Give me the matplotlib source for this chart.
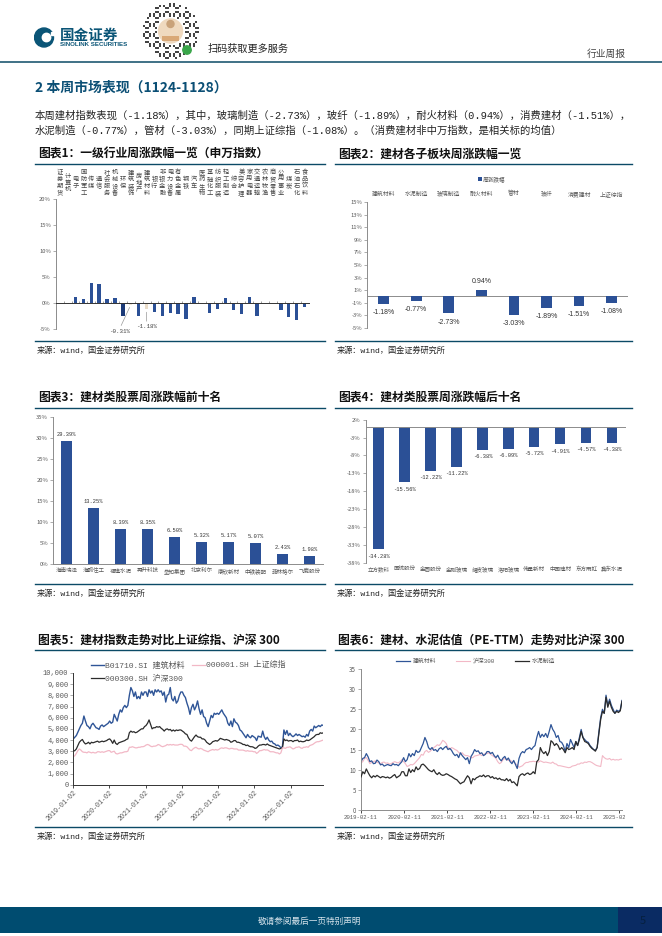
#!/usr/bin/env python3
"""建材周报第 5 页：六张图的复刻，输出 out.png"""
import numpy as np
import pandas as pd
import matplotlib
matplotlib.use("Agg")
import matplotlib.pyplot as plt
from matplotlib.patches import Rectangle, Circle
from matplotlib.transforms import Bbox

plt.rcParams["font.family"] = ["Noto Sans CJK SC", "DejaVu Sans"]
plt.rcParams["axes.unicode_minus"] = False

W, H = 662, 936
CJK = ["Noto Sans CJK SC", "DejaVu Sans"]
MONO = ["Liberation Mono", "Noto Sans CJK SC"]
SANS = ["Liberation Sans", "Noto Sans CJK SC"]
TEAL = "#0b4a66"
BLUE = "#2b5096"
NAVY = "#1c3a78"
PINK = "#f2b8c6"
BLACK = "#2b2b2b"
GREY = "#595959"

# 图表1
ind_names = ["证券期货", "计算机", "电子", "国防军工", "传媒", "通信", "社会服务", "机械设备",
             "环保", "建筑装饰", "房地产", "建筑材料", "银行", "非银金融", "电力设备", "有色金属",
             "钢铁", "汽车", "医药生物", "基础化工", "纺织服装", "轻工制造", "综合", "美容护理",
             "家用电器", "交通运输", "农林牧渔", "商贸零售", "公用事业", "煤炭", "石油石化", "食品饮料"]
ind_chg = [0, 0, 1.2, 0.9, 3.9, 3.8, 0.8, 1.1, -2.4, -0.31, -2.5, -1.18, -1.6, -2.4, -1.8, -2.1,
           -3.0, 1.25, 0, -1.8, -1.1, 1.1, -1.3, -2.0, 1.3, -2.5, 0, 0.15, -1.3, -2.7, -3.3, -0.8]
ind_ticks = [-5, 0, 5, 10, 15, 20]

# 图表2
sub_names = ["建筑材料", "水泥制造", "玻璃制造", "耐火材料", "管材", "玻纤", "消费建材", "上证综指"]
sub_chg = [-1.18, -0.77, -2.73, 0.94, -3.03, -1.89, -1.51, -1.08]
sub_ticks = [-5, -3, -1, 1, 3, 5, 7, 9, 11, 13, 15]

# 图表3
top_names = ["海南瑞泽", "海鸥住工", "福建水泥", "再升科技", "垒知集团",
             "北京利尔", "康欣新材", "中铁装配", "菲林格尔", "飞鹿股份"]
top_chg = [29.39, 13.25, 8.39, 8.35, 6.50, 5.32, 5.17, 5.07, 2.43, 1.98]
top_ticks = [0, 5, 10, 15, 20, 25, 30, 35]

# 图表4
low_names = ["立方数科", "国统股份", "金圆股份", "金刚玻璃", "耀皮玻璃",
             "洛阳玻璃", "伟星新材", "中国建材", "东方雨虹", "冀东水泥"]
low_chg = [-34.28, -15.56, -12.22, -11.22, -6.38, -6.09, -5.72, -4.91, -4.57, -4.38]
low_ticks = [-38, -33, -28, -23, -18, -13, -8, -3, 2]

# 图表5，半月一个读数
idx_start, idx_end = "2019-01-02", "2025-11-28"
idx_jc = [4100, 4250, 4400, 4700, 5000, 5300, 5500, 6150, 5700, 5300, 5200, 5000,
          5350, 5500, 5300, 5100, 5050, 4950, 5250, 5350, 5200, 5300, 5400, 5500,
          5700, 5500, 5600, 6300, 6000, 5700, 6300, 6700, 6500, 6900, 7100, 6900,
          7100, 8000, 8700, 8400, 7900, 8300, 7700, 7900, 7700, 8300, 8000, 8300,
          8300, 7900, 8500, 8200, 8400, 8000, 8500, 8300, 8500, 8300, 8400, 8000,
          8300, 7400, 8000, 8100, 8700, 7700, 7500, 7900, 7300, 7500, 8000, 8300,
          8300, 8000, 7800, 7300, 6900, 6300, 6900, 7200, 6700, 7000, 7500, 6800,
          6300, 6700, 6100, 6000, 5500, 5200, 5700, 6200, 6000, 6400, 6300, 6400,
          6300, 6500, 6700, 6400, 6200, 6000, 5500, 5300, 5700, 5200, 5900, 5600,
          5500, 5300, 4900, 4800, 4600, 4400, 4200, 4500, 4300, 4200, 4400, 4300,
          4200, 3950, 4350, 4300, 4250, 4800, 4300, 4050, 4250, 4000, 3850, 3900,
          3700, 3650, 3500, 3550, 3450, 3300, 3400, 4900, 4500, 4850, 4400, 4600,
          4400, 4300, 4400, 4550, 4400, 4500, 4400, 4300, 4350, 4250, 4500, 4350,
          4800, 4950, 4800, 5250, 5100, 5200, 5300, 5200, 5350, 5300]
idx_hs300 = [3000, 3050, 3200, 3500, 3800, 3950, 4050, 3800, 3650, 3700, 3800, 3650,
             3800, 3750, 3800, 3850, 3900, 3800, 3850, 3900, 3850, 3900, 3950, 4050,
             4100, 3950, 3700, 4000, 3700, 3600, 3750, 3800, 3850, 3900, 3950, 4050,
             4100, 4650, 4800, 4700, 4750, 4650, 4700, 4800, 4900, 5000, 5000, 5200,
             5300, 5500, 5800, 5400, 5000, 5100, 5100, 5200, 5150, 5200, 5050, 4950,
             4800, 4950, 5000, 4900, 4950, 4800, 4900, 4800, 4900, 4850, 4900, 4900,
             4800, 4700, 4550, 4500, 4200, 4000, 3900, 4100, 4300, 4450, 4300, 4250,
             4250, 4100, 4100, 4000, 3800, 3700, 3600, 3700, 3850, 3900, 3950, 3900,
             4000, 4150, 4100, 4050, 4000, 4050, 4000, 3950, 3800, 3850, 3950, 3950,
             3800, 3800, 3750, 3700, 3600, 3600, 3500, 3550, 3450, 3400, 3400, 3350,
             3250, 3300, 3450, 3550, 3550, 3600, 3600, 3550, 3650, 3550, 3500, 3450,
             3400, 3350, 3300, 3250, 3200, 3250, 3300, 4100, 3950, 4000, 3900, 3950,
             3950, 3850, 3950, 3950, 4000, 3850, 3900, 3850, 3850, 3900, 4000, 3950,
             4000, 4100, 4200, 4300, 4450, 4500, 4500, 4650, 4600, 4650]
idx_sh = [2500, 2600, 2800, 3050, 3200, 3100, 2950, 2900, 2900, 2850, 2950, 2900,
          2850, 2900, 2850, 2850, 2950, 2950, 2900, 2950, 2900, 2950, 3000, 3050,
          3050, 2900, 2950, 3000, 2800, 2750, 2800, 2850, 2850, 2900, 2950, 2950,
          3000, 3350, 3350, 3400, 3350, 3300, 3300, 3350, 3350, 3400, 3400, 3450,
          3550, 3600, 3550, 3450, 3400, 3450, 3450, 3500, 3600, 3550, 3450, 3400,
          3450, 3500, 3600, 3550, 3600, 3550, 3600, 3550, 3550, 3550, 3600, 3620,
          3600, 3450, 3450, 3400, 3250, 3100, 3050, 3200, 3300, 3350, 3250, 3200,
          3250, 3200, 3100, 3050, 3000, 2950, 3050, 3100, 3150, 3100, 3150, 3100,
          3150, 3250, 3300, 3250, 3300, 3300, 3250, 3200, 3250, 3250, 3200, 3200,
          3200, 3100, 3100, 3100, 3100, 3050, 3000, 3050, 3000, 3000, 3000, 2950,
          2950, 2800, 2900, 3050, 3050, 3100, 3150, 3100, 3120, 3050, 2950, 2950,
          2950, 2900, 2850, 2850, 2750, 2850, 3300, 3300, 3250, 3350, 3350, 3400,
          3300, 3200, 3250, 3350, 3350, 3400, 3300, 3250, 3350, 3350, 3400, 3350,
          3500, 3550, 3600, 3700, 3800, 3850, 3850, 3900, 3950, 4000]
idx_ticks = [0, 1000, 2000, 3000, 4000, 5000, 6000, 7000, 8000, 9000, 10000]
idx_dates = ["2019-01-02", "2020-01-02", "2021-01-02", "2022-01-02",
             "2023-01-02", "2024-01-02", "2025-01-02"]

# 图表6
pe_start, pe_end = "2019-02-11", "2025-03-05"
pe_jc = [12.0, 12.8, 13.0, 14.0, 13.2, 12.0, 12.2, 11.5, 11.6, 12.4, 12.0, 11.2,
         11.4, 10.9, 11.1, 11.3, 11.1, 11.0, 11.5, 11.2, 11.3, 11.0, 11.5, 12.0,
         13.0, 12.0, 12.5, 14.0, 13.2, 14.0, 13.5, 14.8, 14.3, 14.5, 15.5, 16.5,
         18.0, 17.0, 15.5, 15.0, 15.5, 14.8, 15.0, 14.5, 15.2, 15.5, 15.0, 15.5,
         15.8, 15.0, 15.3, 14.8, 14.0, 13.5, 13.8, 13.0, 14.2, 13.5, 13.0, 12.5,
         13.0, 11.5, 13.3, 14.0, 15.0, 14.5, 14.7, 14.0, 14.2, 13.5, 13.8, 14.5,
         14.5, 14.0, 14.3, 13.5, 13.0, 13.6, 12.7, 12.2, 12.9, 13.3, 12.4, 12.9,
         12.0, 11.5, 12.3, 11.3, 10.3, 12.8, 14.0, 14.5, 14.2, 15.0, 15.2, 15.5,
         15.0, 15.6, 16.0, 18.0, 19.5, 18.0, 18.8, 18.2, 19.0, 18.0, 19.5, 21.2,
         20.0, 19.3, 18.0, 18.5, 17.0, 16.8, 16.0, 14.5, 16.5, 15.5, 17.5, 16.5,
         15.5, 17.0, 16.0, 18.0, 20.0, 18.0, 17.5, 17.0, 16.8, 16.0, 15.5, 15.0,
         14.8, 15.5, 19.5, 23.0, 25.0, 24.0, 28.5, 26.0, 27.5, 26.0, 25.0, 24.0,
         24.8, 24.5, 24.8, 27.2]
pe_cement = [8.2, 9.5, 9.0, 10.2, 9.3, 8.5, 8.0, 8.5, 8.2, 8.6, 8.3, 8.0,
             8.3, 8.2, 8.0, 8.2, 7.9, 8.1, 8.5, 8.8, 8.0, 8.3, 8.6, 9.5,
             9.5, 8.5, 8.5, 10.2, 9.3, 10.0, 9.5, 10.7, 10.0, 10.3, 11.2, 11.4,
             11.0, 10.5, 10.0, 9.7, 9.5, 10.0, 9.2, 8.8, 9.3, 8.8, 8.6, 8.7,
             9.0, 8.8, 8.5, 8.3, 8.0, 7.7, 7.5, 7.0, 6.5, 6.8, 7.0, 7.8,
             8.5, 8.0, 6.5, 7.8, 7.5, 8.0, 8.2, 8.5, 8.3, 8.7, 8.2, 8.5,
             8.5, 8.0, 8.3, 7.8, 8.0, 7.6, 7.9, 7.5, 7.5, 7.3, 7.8, 7.2,
             7.6, 6.8, 7.0, 6.5, 6.0, 8.3, 8.8, 9.0, 8.6, 9.0, 9.2, 8.8,
             9.0, 9.5, 9.0, 12.0, 12.5, 15.5, 14.5, 14.0, 14.5, 13.5, 14.5, 17.2,
             16.8, 16.0, 16.5, 16.0, 15.0, 15.5, 15.0, 14.2, 15.5, 15.0, 15.2, 15.5,
             15.0, 17.0, 16.0, 17.5, 19.5, 18.0, 17.0, 16.8, 16.5, 15.8, 15.3, 15.0,
             14.6, 15.5, 19.0, 22.5, 24.5, 24.0, 28.0, 25.5, 27.0, 25.5, 24.5, 24.0,
             24.5, 24.2, 24.6, 27.0]
pe_hs300 = [11.7, 12.0, 12.8, 13.0, 12.3, 11.5, 11.8, 12.0, 12.2, 11.8, 11.7, 11.5,
            11.8, 11.9, 11.6, 11.7, 11.4, 11.5, 11.8, 12.0, 11.8, 11.7, 12.0, 12.5,
            12.0, 11.5, 10.8, 11.0, 11.3, 11.2, 11.5, 12.0, 12.5, 13.0, 13.8, 13.6,
            14.5, 14.8, 14.3, 14.6, 15.0, 15.5, 15.8, 16.2, 16.0, 16.5, 17.3, 17.0,
            16.5, 15.5, 15.0, 15.5, 15.3, 15.0, 14.8, 14.3, 14.0, 14.2, 13.7, 13.5,
            13.5, 13.3, 13.0, 13.0, 13.4, 13.5, 13.6, 13.8, 13.5, 13.8, 14.0, 14.0,
            14.2, 13.8, 13.5, 13.2, 12.8, 12.0, 11.5, 11.8, 12.5, 12.8, 12.5, 12.3,
            12.4, 12.0, 12.0, 11.5, 11.2, 10.6, 10.8, 11.0, 11.5, 11.8, 11.8, 12.0,
            12.0, 12.1, 12.0, 12.0, 11.9, 12.2, 12.0, 11.8, 11.9, 11.8, 11.7, 11.6,
            11.9, 11.5, 11.4, 11.0, 11.0, 10.9, 10.8, 10.7, 10.6, 10.5, 10.6, 10.9,
            11.0, 11.1, 11.4, 11.4, 11.7, 11.6, 11.9, 11.8, 12.0, 12.0, 11.8, 11.5,
            11.2, 11.0, 10.9, 10.8, 13.5, 13.0, 12.7, 12.6, 12.8, 12.4, 12.6, 12.4,
            12.5, 12.4, 12.6, 12.6]
pe_ticks = [0, 5, 10, 15, 20, 25, 30, 35]
pe_dates = ["2019-02-11", "2020-02-11", "2021-02-11", "2022-02-11",
            "2023-02-11", "2024-02-11", "2025-02-11"]

SOURCE = "来源：wind，国金证券研究所"
BODY = ["本周建材指数表现（-1.18%），其中，玻璃制造（-2.73%），玻纤（-1.89%），耐火材料（0.94%），消费建材（-1.51%），",
        "水泥制造（-0.77%），管材（-3.03%），同期上证综指（-1.08%）。（消费建材非中万指数，是相关标的均值）"]

fig = plt.figure(figsize=(W / 100, H / 100), dpi=100, facecolor="white")


def px_axes(x0, y0, x1, y1):
    # 像素坐标（左上为原点）转 figure 坐标
    return fig.add_axes([x0 / W, 1 - y1 / H, (x1 - x0) / W, (y1 - y0) / H])


def px_xy(x, y):
    return x / W, 1 - y / H


def px_text(x, y, s, **kw):
    kw.setdefault("va", "center")
    return fig.text(x / W, 1 - y / H, s, **kw)


def px_rect(x0, y0, x1, y1, color):
    fig.add_artist(Rectangle((x0 / W, 1 - y1 / H), (x1 - x0) / W, (y1 - y0) / H,
                             transform=fig.transFigure, color=color, lw=0))


def px_hline(x0, x1, y, color=TEAL, lw=1.0):
    fig.add_artist(plt.Line2D([x0 / W, x1 / W], [1 - y / H, 1 - y / H], color=color, lw=lw))


def panel_frame(x0, x1, title, y_title, y_top, y_bottom):
    px_text(x0 + 3, y_title, title, fontsize=8.5, fontweight="bold", color="#111111", family=CJK)
    px_hline(x0, x1, y_top)
    px_hline(x0, x1, y_bottom)
    px_text(x0 + 2, y_bottom + 9.5, SOURCE, fontsize=5.9, color="#222222", family=MONO)


def style_axis(ax, ticks, fmt, size=4.2):
    for s in ["top", "right"]:
        ax.spines[s].set_visible(False)
    ax.spines["left"].set_color("#8c8c8c")
    ax.spines["left"].set_linewidth(0.7)
    ax.spines["bottom"].set_color("#8c8c8c")
    ax.spines["bottom"].set_linewidth(0.7)
    ax.set_yticks(ticks)
    ax.set_yticklabels([fmt(t) for t in ticks], fontsize=size, color=GREY)
    ax.tick_params(axis="y", length=2, width=0.5, color="#8c8c8c", pad=1.5)


def pct(t):
    return f"{t}%"


def bar_panel(box, names, vals, ticks, ylim, width, top_labels, label_font, label_size, off):
    ax = px_axes(*box)
    x = np.arange(len(vals))
    ax.bar(x, vals, width=width, color=BLUE, zorder=2)
    ax.set_xlim(-0.5, len(vals) - 0.5)
    ax.set_ylim(*ylim)
    style_axis(ax, ticks, pct)
    ax.set_xticks(x)
    ax.set_xticklabels(names, fontsize=4.2, color=GREY)
    ax.tick_params(axis="x", length=0, pad=3)
    if top_labels:
        ax.xaxis.tick_top()
        ax.spines["bottom"].set_visible(False)
        ax.axhline(0, color="#8c8c8c", lw=0.7, zorder=1)
    else:
        ax.spines["bottom"].set_position(("data", 0))
        ax.tick_params(axis="x", labelbottom=False)
        for xi, n in zip(x, names):
            ax.annotate(n, (xi, 0), xycoords=("data", "axes fraction"), xytext=(0, -5),
                        textcoords="offset points", ha="center", va="center",
                        fontsize=4.0, color=GREY)
    for xi, v in zip(x, vals):
        ax.annotate(f"{v:.2f}%", (xi, v), xytext=(0, off if v > 0 else -off),
                    textcoords="offset points", ha="center", va="center",
                    fontsize=label_size, color="#333333", family=label_font)
    return ax


# 页眉
logo = px_axes(34, 27, 56, 49)
logo.set_xlim(0, 22)
logo.set_ylim(22, 0)
logo.axis("off")
logo.add_patch(Circle((10, 10.5), 9.5, color="#0b5577"))
logo.add_patch(Circle((12.5, 10.5), 4.2, color="white"))
logo.add_patch(Rectangle((17, 5), 4, 3, color="white"))
px_text(60, 35, "国金证券", fontsize=10.5, fontweight="bold", color="#0b5577", family=CJK)
px_text(60, 44.5, "SINOLINK SECURITIES", fontsize=4.4, fontweight="bold", color="#0b5577",
        family=["Liberation Sans"])

qr = px_axes(143, 3, 199, 59)
qr.set_xlim(0, 56)
qr.set_ylim(56, 0)
qr.axis("off")
cells = [(i, j) for i in range(28) for j in range(28)]
for i, j in cells:
    r = np.hypot(i - 13.5, j - 13.5)
    if 7.2 < r < 13.8 and (i * 7 + j * 11 + i * j) % 5 < 2:
        qr.add_patch(Rectangle((i * 2, j * 2), 1.6, 1.6, color="#444444", lw=0))
qr.add_patch(Circle((27.5, 28), 12, color="#efd9bf"))
qr.add_patch(Rectangle((19, 33), 17, 5, color="#d9a877", lw=0))
qr.add_patch(Circle((27.5, 21), 3.5, color="#c9a27a"))
qr.add_patch(Circle((44, 47), 4.2, color="#3aa64a"))
px_text(208, 48.5, "扫码获取更多服务", fontsize=7.3, color="#222222", family=CJK)
px_text(587, 54, "行业周报", fontsize=7, color="#444444", family=CJK)
px_hline(0, W, 61.5, lw=1.1)

# 正文
px_text(35, 88, "2 本周市场表现（1124-1128）", fontsize=10, fontweight="bold", color="#0b4f75", family=CJK)
px_text(35, 116, BODY[0], fontsize=7.45, color="#222222", family=MONO)
px_text(35, 130.5, BODY[1], fontsize=7.45, color="#222222", family=MONO)

panel_frame(35, 325, "图表1：一级行业周涨跌幅一览（申万指数）", 154, 164.3, 341)
panel_frame(335, 632, "图表2：建材各子板块周涨跌幅一览", 154, 164.3, 341)
panel_frame(35, 325, "图表3：建材类股票周涨跌幅前十名", 397, 407.7, 584)
panel_frame(335, 632, "图表4：建材类股票周涨跌幅后十名", 397, 407.7, 584)
panel_frame(35, 325, "图表5：建材指数走势对比上证综指、沪深 300", 640, 650, 827)
panel_frame(335, 632, "图表6：建材、水泥估值（PE-TTM）走势对比沪深 300", 640, 650, 827)

# 图表1
ax1 = px_axes(55.7, 199.3, 308.5, 329.3)
x1 = np.arange(len(ind_chg))
colors1 = [BLUE] * len(ind_chg)
colors1[8] = NAVY
colors1[9] = "#f4ead8"
colors1[11] = "#eadcc8"
ax1.bar(x1, ind_chg, width=0.42, color=colors1, zorder=2)
ax1.set_xlim(-0.5, len(ind_chg) - 0.5)
ax1.set_ylim(-5, 20)
style_axis(ax1, ind_ticks, pct)
ax1.spines["bottom"].set_position(("data", 0))
ax1.spines["bottom"].set_color("#333333")
ax1.set_xticks(x1 - 0.5)
ax1.set_xticklabels([])
ax1.tick_params(axis="x", length=1.5, width=0.4, color="#555555", direction="in")
for xi, n in zip(x1, ind_names):
    ax1.annotate("\n".join(n), (xi, 1), xycoords=("data", "axes fraction"), xytext=(0, 12),
                 textcoords="offset points", ha="center", va="center", fontsize=4.5,
                 linespacing=0.8, color="#444444")
px_text(120, 331, "-0.31%", fontsize=4.2, color="#444444", family=MONO, ha="center")
ax1.annotate("", xy=(ind_names.index("建筑装饰"), ind_chg[9]), xytext=px_xy(120, 328),
             textcoords=fig.transFigure, arrowprops=dict(arrowstyle="-", color="#999999", lw=0.5))
px_text(146.7, 327, "-1.18%", fontsize=4.2, color="#444444", family=MONO, ha="center")
ax1.annotate("", xy=(ind_names.index("建筑材料"), ind_chg[11]), xytext=px_xy(146.7, 324),
             textcoords=fig.transFigure, arrowprops=dict(arrowstyle="-", color="#999999", lw=0.5))

# 图表2
ax2 = bar_panel((367.3, 202.3, 628, 327.7), sub_names, sub_chg, sub_ticks, (-5, 15), 0.33,
                True, SANS, 5, 6.2)
ax2.tick_params(axis="x", pad=4)
px_rect(478, 177, 481.5, 180.5, BLUE)
px_text(483, 179, "周涨跌幅", fontsize=4.1, color=GREY, family=CJK)

# 图表3
ax3 = bar_panel((53, 417.3, 323, 564), top_names, top_chg, top_ticks, (0, 35), 0.4,
                False, MONO, 3.9, 4.8)

# 图表4
ax4 = bar_panel((365.7, 419.7, 625, 562.7), low_names, low_chg, low_ticks, (-38, 2), 0.4,
                False, MONO, 3.9, 4.8)

# 图表5
ax5 = px_axes(73.3, 673, 323.3, 784.7)
d5 = pd.date_range(idx_start, idx_end, periods=len(idx_jc))
ax5.plot(d5, idx_jc, color="#2f5597", lw=1.0, label="B01710.SI 建筑材料")
ax5.plot(d5, idx_hs300, color=BLACK, lw=0.9, label="000300.SH 沪深300")
ax5.plot(d5, idx_sh, color=PINK, lw=0.9, label="000001.SH 上证综指")
ax5.set_xlim(pd.Timestamp(idx_start), pd.Timestamp(idx_end))
ax5.set_ylim(0, 10000)
style_axis(ax5, idx_ticks, lambda t: f"{t:,}", size=5)
for lab in ax5.get_yticklabels():
    lab.set_family(MONO)
ax5.spines["bottom"].set_color("#333333")
ax5.spines["left"].set_color("#333333")
ax5.set_xticks(pd.to_datetime(idx_dates))
ax5.set_xticklabels(idx_dates, rotation=45, ha="right", rotation_mode="anchor",
                    fontsize=4.9, color=GREY, family=MONO)
ax5.tick_params(axis="x", length=2, width=0.5, pad=1.5)
ax5.legend(loc="upper left", bbox_to_anchor=(0.04, 1.17), ncol=2, frameon=False,
           prop={"family": MONO, "size": 5.8}, labelcolor=GREY, columnspacing=0.9,
           handlelength=1.7, handletextpad=0.1, labelspacing=0.65)

# 图表6
ax6 = px_axes(361, 669, 622, 810)
d6 = pd.date_range(pe_start, pe_end, periods=len(pe_jc))
ax6.plot(d6, pe_hs300, color=PINK, lw=0.8, label="沪深300", zorder=2)
ax6.plot(d6, pe_cement, color=BLACK, lw=0.9, label="水泥制造", zorder=3)
ax6.plot(d6, pe_jc, color="#2f5597", lw=0.9, label="建筑材料", zorder=2.5)
ax6.set_xlim(pd.Timestamp(pe_start), pd.Timestamp(pe_end))
ax6.set_ylim(0, 35)
style_axis(ax6, pe_ticks, str, size=4.4)
ax6.set_xticks(pd.to_datetime(pe_dates))
ax6.set_xticklabels(pe_dates, fontsize=4.1, color=GREY, family=MONO)
ax6.tick_params(axis="x", length=2, width=0.5, pad=1.5)
# 最后一个日期在原图里被图框裁掉
ax6.get_xticklabels()[-1].set_clip_box(Bbox([[0, 0], [625, H]]))
ax6.get_xticklabels()[-1].set_clip_on(True)
handles, labels = ax6.get_legend_handles_labels()
order = [2, 0, 1]
ax6.legend([handles[i] for i in order], [labels[i] for i in order], loc="upper center",
           bbox_to_anchor=(0.44, 1.115), ncol=3, frameon=False, prop={"family": MONO, "size": 4.2},
           labelcolor=GREY, columnspacing=3.4, handlelength=2.4, handletextpad=0.5)

# 页脚
px_rect(0, 907, 618, 933, "#004c70")
px_rect(618, 907, 662, 933, "#0a2b63")
px_text(310, 921, "敬请参阅最后一页特别声明", fontsize=6.2, color="#d8e4ec", ha="center", family=CJK)
px_text(643, 921, "5", fontsize=8, color="#06203f", ha="center", family=CJK)

fig.savefig("out.png", dpi=100)
